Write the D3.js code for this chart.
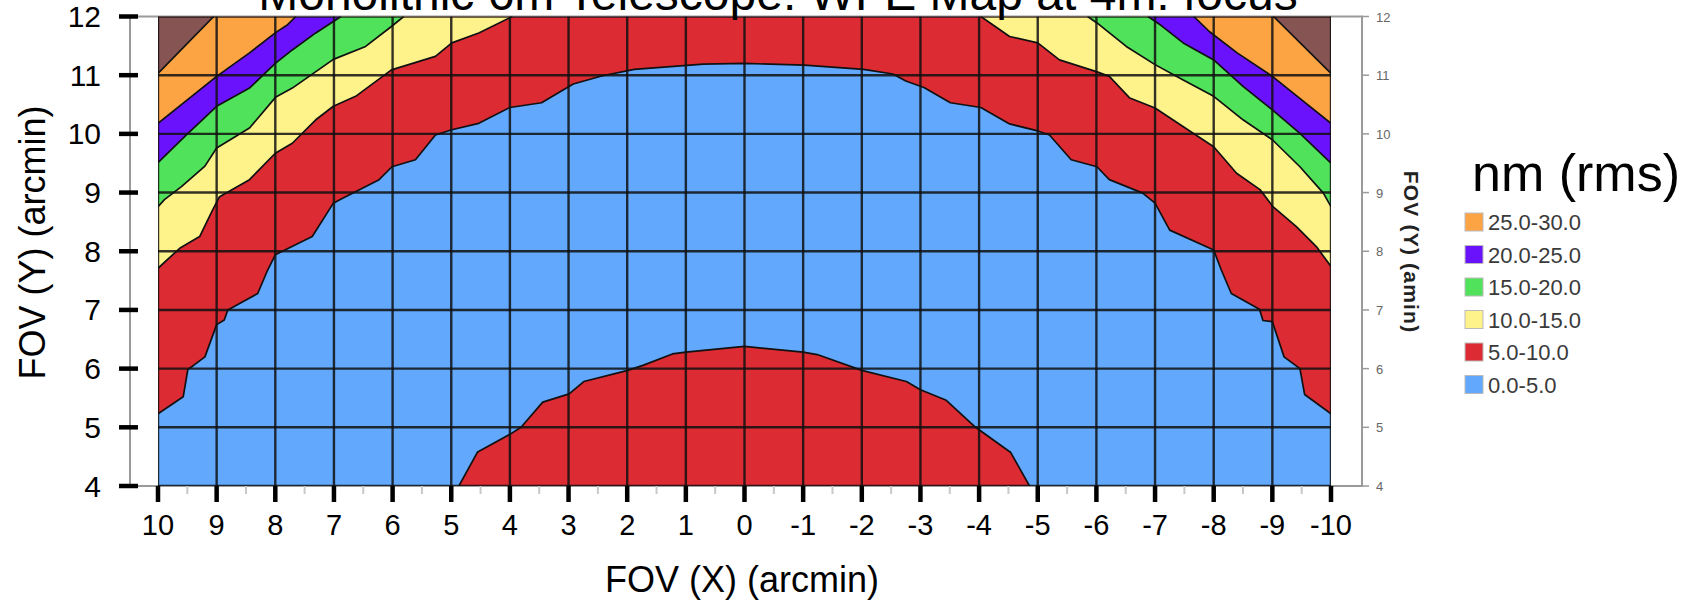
<!DOCTYPE html>
<html lang="en">
<head>
  <meta charset="UTF-8">
  <title>WFE Map</title>
  <script src="https://d3js.org/d3.v7.min.js"></script>
  <style>
    body { margin: 0; background: #fff; }
    text { font-family: "Liberation Sans", Arial, sans-serif; }
  </style>
</head>
<body>
  <div id="chart"></div>
  <script>
    // axis ticks
    const xTickValues = [10, 9, 8, 7, 6, 5, 4, 3, 2, 1, 0, -1, -2, -3, -4, -5, -6, -7, -8, -9, -10];
    const yTickValues = [4, 5, 6, 7, 8, 9, 10, 11, 12];

    // legend bands (nm rms), highest first
    const legendLabels = ["25.0-30.0", "20.0-25.0", "15.0-20.0", "10.0-15.0", "5.0-10.0", "0.0-5.0"];
    const legendColors = ["#fca444", "#6b12fc", "#4fe25a", "#fef28b", "#dc2b32", "#62a8fc"];
    const above30Color = "#875454";

    // contour boundaries, [FOV x, FOV y] in arcmin
    const contour5Outer = [[10, 5.23], [9.57, 5.52], [9.49, 5.99], [9.4, 6.05], [9.2, 6.2], [9.0, 6.75], [8.87, 6.83],
      [8.81, 7.0], [8.3, 7.28], [8.13, 7.68], [8.0, 7.94], [7.37, 8.25], [7.01, 8.82], [6.86, 8.9], [6.23, 9.22],
      [6.01, 9.44], [5.61, 9.56], [5.27, 9.98], [4.99, 10.07], [4.53, 10.18], [4.0, 10.45], [3.46, 10.53],
      [2.92, 10.85], [2.42, 10.99], [1.88, 11.1], [0.7, 11.19], [0, 11.2], [-1.02, 11.17], [-2.03, 11.1],
      [-2.53, 11.02], [-2.75, 10.9], [-3.06, 10.79], [-3.51, 10.53], [-4.03, 10.45], [-4.52, 10.17], [-5.0, 10.05],
      [-5.2, 9.98], [-5.57, 9.56], [-6.01, 9.44], [-6.22, 9.22], [-6.79, 8.99], [-7.0, 8.82], [-7.25, 8.36],
      [-8.0, 8.02], [-8.13, 7.68], [-8.3, 7.28], [-8.78, 7.01], [-8.84, 6.82], [-9.0, 6.8], [-9.2, 6.2],
      [-9.47, 6.0], [-9.55, 5.56], [-10, 5.23]];
    const contour5Dome = [[4.87, 4], [4.55, 4.58], [4.0, 4.88], [3.81, 5.0], [3.44, 5.43], [2.99, 5.57], [2.74, 5.78],
      [1.99, 5.97], [1.72, 6.06], [1.23, 6.25], [1.0, 6.28], [0, 6.38], [-1.0, 6.28], [-1.24, 6.24], [-2.0, 5.97],
      [-2.76, 5.78], [-3.0, 5.64], [-3.44, 5.46], [-3.94, 5.0], [-4.54, 4.57], [-4.86, 4]];
    const contour10Left = [[10, 7.71], [9.63, 8.05], [9.29, 8.25], [9.07, 8.7], [8.95, 8.93], [8.44, 9.22], [8.0, 9.67],
      [7.71, 9.84], [7.31, 10.24], [7.01, 10.47], [6.63, 10.64], [6.02, 11.09], [5.27, 11.32], [4.99, 11.55],
      [4.53, 11.72], [3.96, 12]];
    const contour10Right = [[-10, 7.74], [-9.75, 8.08], [-9.41, 8.42], [-9.01, 8.76], [-8.79, 9.05], [-8.39, 9.33],
      [-8.0, 9.78], [-7.65, 10.01], [-7.0, 10.44], [-6.57, 10.61], [-6.22, 10.98], [-6.0, 11.06], [-5.37, 11.26],
      [-5.0, 11.55], [-4.52, 11.66], [-4.03, 12]];
    const contour15Left = [[10, 8.76], [9.89, 8.88], [9.6, 9.1], [9.2, 9.45], [9.0, 9.76], [8.44, 10.1], [7.99, 10.63],
      [7.71, 10.78], [7.01, 11.27], [6.46, 11.49], [6.02, 11.83], [5.81, 12]];
    const contour15Right = [[-10, 8.76], [-9.87, 8.99], [-9.47, 9.44], [-9.0, 9.9], [-8.5, 10.24], [-8.0, 10.64],
      [-7.48, 10.92], [-7.0, 11.18], [-6.51, 11.49], [-6.01, 11.89], [-5.85, 12]];
    const contour20Left = [[10, 9.51], [9.52, 9.98], [9.0, 10.47], [8.44, 10.78], [8.0, 11.2], [7.71, 11.43],
      [7.31, 11.72], [6.97, 11.94], [6.88, 12]];
    const contour20Right = [[-10, 9.5], [-9.47, 10.01], [-9.0, 10.41], [-8.5, 10.81], [-8.0, 11.26], [-7.48, 11.55],
      [-7.1, 11.85], [-6.88, 12]];
    const contour25Left = [[10, 10.18], [9.0, 10.98], [8.44, 11.38], [7.99, 11.73], [7.79, 11.86], [7.65, 12]];
    const contour25Right = [[-10, 10.18], [-9.0, 10.98], [-8.4, 11.38], [-7.93, 11.74], [-7.66, 12]];
    const contour30Left = [[10, 11.03], [9.05, 12]];
    const contour30Right = [[-10, 11.03], [-9.02, 12]];

    const width = 1686, height = 601;
    const svg = d3.select("#chart").append("svg")
      .attr("width", width)
      .attr("height", height);

    const x = d3.scaleLinear().domain([10, -10]).range([158, 1331]);
    const y = d3.scaleLinear().domain([4, 12]).range([486, 16.5]);
    const line = d3.line().x(d => x(d[0])).y(d => y(d[1]));

    svg.append("defs").append("clipPath").attr("id", "plotclip")
      .append("rect")
      .attr("x", x(10)).attr("y", y(12))
      .attr("width", x(-10) - x(10)).attr("height", y(4) - y(12));

    // frame with white margins
    svg.append("rect")
      .attr("x", 130).attr("y", y(12))
      .attr("width", 1362 - 130).attr("height", y(4) - y(12))
      .attr("fill", "#fff").attr("stroke", "#9a9a9a").attr("stroke-width", 2);

    const plot = svg.append("g").attr("clip-path", "url(#plotclip)");

    // bands, painted lowest first
    const regions = [
      { pts: [[10, 4], [-10, 4], [-10, 12], [10, 12]], color: legendColors[5] },
      { pts: contour5Outer.concat([[-10, 12], [10, 12]]), color: legendColors[4] },
      { pts: contour5Dome, color: legendColors[4] },
      { pts: contour10Left.concat([[10, 12]]), color: legendColors[3] },
      { pts: contour10Right.concat([[-10, 12]]), color: legendColors[3] },
      { pts: contour15Left.concat([[10, 12]]), color: legendColors[2] },
      { pts: contour15Right.concat([[-10, 12]]), color: legendColors[2] },
      { pts: contour20Left.concat([[10, 12]]), color: legendColors[1] },
      { pts: contour20Right.concat([[-10, 12]]), color: legendColors[1] },
      { pts: contour25Left.concat([[10, 12]]), color: legendColors[0] },
      { pts: contour25Right.concat([[-10, 12]]), color: legendColors[0] },
      { pts: contour30Left.concat([[10, 12]]), color: above30Color },
      { pts: contour30Right.concat([[-10, 12]]), color: above30Color }
    ];
    plot.selectAll("path.band")
      .data(regions)
      .join("path")
      .attr("class", "band")
      .attr("d", d => line(d.pts) + "Z")
      .attr("fill", d => d.color);

    // grid
    plot.selectAll("line.gx")
      .data(xTickValues)
      .join("line")
      .attr("x1", d => x(d)).attr("x2", d => x(d))
      .attr("y1", y(12)).attr("y2", y(4))
      .attr("stroke", "#111").attr("stroke-opacity", 0.85).attr("stroke-width", 2.4);
    plot.selectAll("line.gy")
      .data(yTickValues)
      .join("line")
      .attr("x1", x(10)).attr("x2", x(-10))
      .attr("y1", d => y(d)).attr("y2", d => y(d))
      .attr("stroke", "#111").attr("stroke-opacity", 0.85).attr("stroke-width", 2.4);

    // contour lines
    const contourLines = [contour5Outer, contour5Dome, contour10Left, contour10Right, contour15Left, contour15Right,
      contour20Left, contour20Right, contour25Left, contour25Right, contour30Left, contour30Right];
    plot.selectAll("path.cline")
      .data(contourLines)
      .join("path")
      .attr("d", line)
      .attr("fill", "none")
      .attr("stroke", "#111")
      .attr("stroke-width", 1.7)
      .attr("stroke-linejoin", "round");

    // x axis: minor gray ticks, heavy black major ticks
    const xMinor = xTickValues.slice(1).map((d, i) => (d + xTickValues[i]) / 2);
    svg.selectAll("line.xminor")
      .data(xMinor)
      .join("line")
      .attr("x1", d => x(d)).attr("x2", d => x(d))
      .attr("y1", y(4)).attr("y2", y(4) + 8)
      .attr("stroke", "#c8c8c8").attr("stroke-width", 2);
    svg.selectAll("line.xmajor")
      .data(xTickValues)
      .join("line")
      .attr("x1", d => x(d)).attr("x2", d => x(d))
      .attr("y1", y(4)).attr("y2", y(4) + 16)
      .attr("stroke", "#000").attr("stroke-width", 4.5);
    svg.selectAll("text.xlab")
      .data(xTickValues)
      .join("text")
      .attr("x", d => x(d)).attr("y", 535)
      .attr("text-anchor", "middle")
      .attr("font-size", 29)
      .text(d => d);

    // left y axis
    svg.selectAll("line.ymajor")
      .data(yTickValues)
      .join("line")
      .attr("x1", 119).attr("x2", 138)
      .attr("y1", d => y(d)).attr("y2", d => y(d))
      .attr("stroke", "#000").attr("stroke-width", 4.5);
    svg.selectAll("text.ylab")
      .data(yTickValues)
      .join("text")
      .attr("x", 101).attr("y", d => y(d) + 10.5)
      .attr("text-anchor", "end")
      .attr("font-size", 30)
      .text(d => d);

    // right y axis, small gray
    svg.selectAll("line.rtick")
      .data(yTickValues)
      .join("line")
      .attr("x1", 1362).attr("x2", 1369)
      .attr("y1", d => y(d)).attr("y2", d => y(d))
      .attr("stroke", "#9a9a9a").attr("stroke-width", 1.5);
    svg.selectAll("text.rlab")
      .data(yTickValues)
      .join("text")
      .attr("x", 1376).attr("y", d => y(d) + 5)
      .attr("font-family", "DejaVu Sans, Verdana, sans-serif")
      .attr("font-size", 13)
      .attr("fill", "#666")
      .text(d => d);
    svg.append("text")
      .attr("transform", "translate(1404, 252) rotate(90)")
      .attr("text-anchor", "middle")
      .attr("font-family", "DejaVu Sans, Verdana, sans-serif")
      .attr("font-weight", "bold")
      .attr("font-size", 21)
      .attr("letter-spacing", 1.2)
      .attr("fill", "#222")
      .text("FOV (Y) (amin)");

    // titles
    svg.append("text")
      .attr("x", 778).attr("y", 10)
      .attr("text-anchor", "middle")
      .attr("font-size", 48)
      .text("Monolithic 6m Telescope: WFE Map at 4m: focus");
    svg.append("text")
      .attr("x", 742).attr("y", 592)
      .attr("text-anchor", "middle")
      .attr("font-size", 36)
      .text("FOV (X) (arcmin)");
    svg.append("text")
      .attr("transform", `translate(45, ${y(8.15)}) rotate(-90)`)
      .attr("text-anchor", "middle")
      .attr("font-size", 36)
      .text("FOV (Y) (arcmin)");

    // legend
    svg.append("text")
      .attr("x", 1472).attr("y", 191)
      .attr("font-size", 52)
      .text("nm (rms)");
    const legend = svg.selectAll("g.leg")
      .data(legendLabels)
      .join("g")
      .attr("transform", (d, i) => `translate(1465, ${222 + i * 32.5})`);
    legend.append("rect")
      .attr("x", 0).attr("y", -9)
      .attr("width", 18).attr("height", 18)
      .attr("fill", (d, i) => legendColors[i])
      .attr("stroke", "#bbb").attr("stroke-width", 1);
    legend.append("text")
      .attr("x", 23).attr("y", 8)
      .attr("font-family", "DejaVu Sans, Verdana, sans-serif")
      .attr("font-size", 22)
      .attr("fill", "#3a3a3a")
      .text(d => d);
  </script>
</body>
</html>
